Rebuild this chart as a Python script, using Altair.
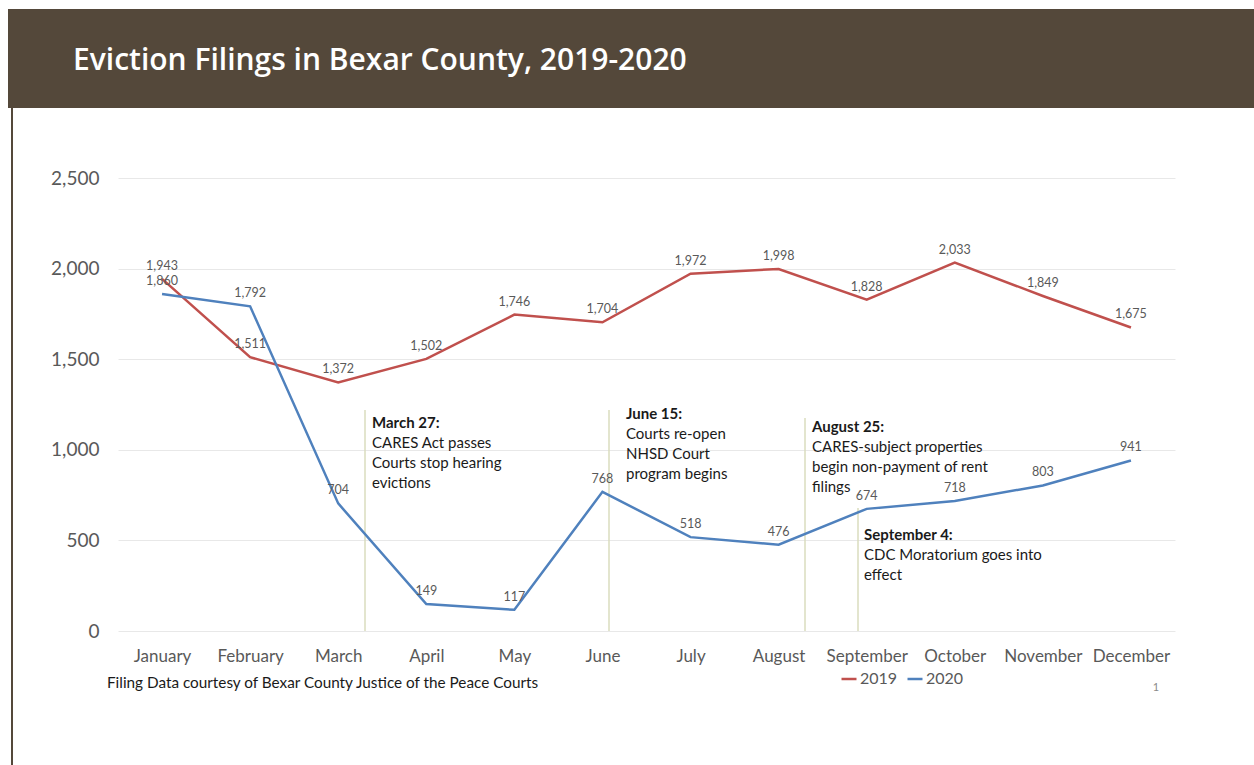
import altair as alt
import pandas as pd

months = ["January", "February", "March", "April", "May", "June", "July",
          "August", "September", "October", "November", "December"]
filings_2019 = [1943, 1511, 1372, 1502, 1746, 1704, 1972, 1998, 1828, 2033, 1849, 1675]
filings_2020 = [1860, 1792, 704, 149, 117, 768, 518, 476, 674, 718, 803, 941]
series = ["2019", "2020"]
colors = ["#C0504D", "#4F81BD"]
y_ticks = [0, 500, 1000, 1500, 2000, 2500]

title_text = "Eviction Filings in Bexar County, 2019-2020"
footer_text = "Filing Data courtesy of Bexar County Justice of the Peace Courts"

df = pd.DataFrame({
    "month": months * 2,
    "year": [series[0]] * 12 + [series[1]] * 12,
    "value": filings_2019 + filings_2020,
})

W, H = 1057, 453
LEFT, TOP = 118, 178
FONT = "Lato"
BROWN = "#54483A"
ANNO_LINE = "#DADCBE"

one = pd.DataFrame({"a": [0]})

x_enc = alt.X("month:O", sort=months,
              scale=alt.Scale(type="point", padding=0.5),
              axis=alt.Axis(title=None, labelAngle=0, labelFontSize=17,
                            labelColor="#595959", labelFont=FONT, domain=False,
                            ticks=False, labelPadding=17, grid=False))
y_enc = alt.Y("value:Q", scale=alt.Scale(domain=[0, 2500], nice=False),
              axis=alt.Axis(title=None, values=y_ticks, format=",d",
                            labelFontSize=19, labelColor="#595959", labelFont=FONT,
                            domain=False, ticks=False, labelPadding=19,
                            grid=True, gridColor="#E8E8E8", gridWidth=1))

lines = alt.Chart(df).mark_line(strokeWidth=2.5).encode(
    x=x_enc, y=y_enc,
    color=alt.Color("year:N", scale=alt.Scale(domain=series, range=colors),
                    legend=alt.Legend(title=None, orient="none", legendX=722, legendY=492,
                                      direction="horizontal", symbolType="stroke",
                                      symbolSize=225, symbolStrokeWidth=2.5,
                                      labelFontSize=16, labelColor="#595959",
                                      labelFont=FONT, labelOffset=2, columnPadding=4)),
)

labels = alt.Chart(df).mark_text(dy=-13, fontSize=12.5, color="#595959", font=FONT).encode(
    x=alt.X("month:O", sort=months), y="value:Q",
    text=alt.Text("value:Q", format=",d"),
)

def deco_rect(x, x2, y, y2, color):
    return alt.Chart(one).mark_rect(color=color).encode(
        x=alt.value(x - LEFT), x2=alt.value(x2 - LEFT),
        y=alt.value(y - TOP), y2=alt.value(y2 - TOP))

def deco_rule(x, y, y2, color, w=1.5):
    return alt.Chart(one).mark_rule(color=color, strokeWidth=w).encode(
        x=alt.value(x - LEFT), y=alt.value(y - TOP), y2=alt.value(y2 - TOP))

def deco_text(txt, x, y, size, color="#1a1a1a", weight="normal", align="left", font=FONT):
    return alt.Chart(one).mark_text(text=txt, fontSize=size, color=color, font=font,
                                    fontWeight=weight, align=align, baseline="middle",
                                    lineHeight=20).encode(
        x=alt.value(x - LEFT), y=alt.value(y - TOP))

banner = deco_rect(8, 1254, 9, 108, BROWN)
left_border = deco_rect(11, 13, 108, 765, BROWN)
title = deco_text(title_text, 73, 61, 30, color="white", weight=600, font="Open Sans")

anno_lines = [
    deco_rule(365, 410, 631, ANNO_LINE),
    deco_rule(609, 410, 631, ANNO_LINE),
    deco_rule(805, 418, 631, ANNO_LINE),
    deco_rule(858, 508, 631, ANNO_LINE),
]

annos = [
    deco_text("March 27:", 372, 423, 15, weight="bold"),
    deco_text(["CARES Act passes", "Courts stop hearing", "evictions"], 372, 443, 15),
    deco_text("June 15:", 626, 414, 15, weight="bold"),
    deco_text(["Courts re-open", "NHSD Court", "program begins"], 626, 434, 15),
    deco_text("August 25:", 812, 427, 15, weight="bold"),
    deco_text(["CARES-subject properties", "begin non-payment of rent", "filings"], 812, 447, 15),
    deco_text("September 4:", 864, 535, 15, weight="bold"),
    deco_text(["CDC Moratorium goes into", "effect"], 864, 555, 15),
]

footer = deco_text(footer_text, 107, 683, 15.3)
page_no = deco_text("1", 1156, 688, 11, color="#8a8a8a", align="center")

chart = alt.layer(
    banner, left_border, title, *anno_lines, lines, labels, *annos, footer, page_no
).properties(
    width=W, height=H,
    autosize=alt.AutoSizeParams(type="none"),
    padding={"left": LEFT, "top": TOP, "right": 1254 - LEFT - W, "bottom": 765 - TOP - H},
    background="white",
).configure_view(stroke=None)

chart.save("out.html", embed_options={"renderer": "svg", "actions": False})
